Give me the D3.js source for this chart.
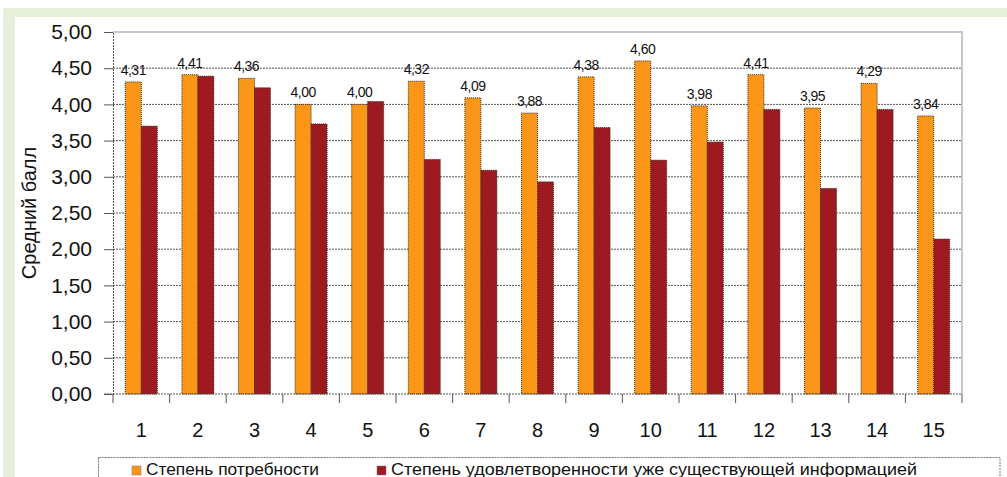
<!DOCTYPE html>
<html>
<head>
<meta charset="utf-8">
<script src="https://cdn.jsdelivr.net/npm/d3@7"></script>
<style>
  body { margin: 0; background: #fff; }
  svg { display: block; font-family: "Liberation Sans", Arial, sans-serif; }
</style>
</head>
<body>
<div id="chart"></div>
<script>
// categories 1..15 and the two series
var categories = ["1", "2", "3", "4", "5", "6", "7", "8", "9", "10", "11", "12", "13", "14", "15"];
var needValues = [4.31, 4.41, 4.36, 4.00, 4.00, 4.32, 4.09, 3.88, 4.38, 4.60, 3.98, 4.41, 3.95, 4.29, 3.84];
var satisfactionValues = [3.70, 4.39, 4.23, 3.73, 4.04, 3.24, 3.09, 2.93, 3.68, 3.23, 3.48, 3.93, 2.84, 3.93, 2.14];
var seriesNames = ["Степень потребности", "Степень удовлетворенности уже существующей информацией"];
var yTicks = [0, 0.5, 1, 1.5, 2, 2.5, 3, 3.5, 4, 4.5, 5];
var yTitle = "Средний балл";

var width = 1007, height = 477;
var plotLeft = 113, plotRight = 962, plotTop = 32, plotBottom = 394;
var colors = ["#fb9619", "#9c1a20"];

var svg = d3.select("#chart").append("svg")
    .attr("width", width)
    .attr("height", height);

// light green frame, top and left
svg.append("rect").attr("x", 3).attr("y", 8).attr("width", width - 3).attr("height", 9).attr("fill", "#e6f0db");
svg.append("rect").attr("x", 3).attr("y", 8).attr("width", 12).attr("height", height - 8).attr("fill", "#e6f0db");

var x0 = d3.scaleBand().domain(categories).range([plotLeft, plotRight]).padding(0);
var x1 = d3.scaleBand().domain([0, 1]).range([0, x0.bandwidth()]).paddingInner(0).paddingOuter(0.77);
var y = d3.scaleLinear().domain([0, 5]).range([plotBottom, plotTop]);

var fmt = function(v) { return d3.format(".2f")(v).replace(".", ","); };

// gridlines
svg.append("g")
  .selectAll("line")
  .data(yTicks.filter(function(d) { return d > 0 && d < 5; }))
  .enter().append("line")
    .attr("x1", plotLeft).attr("x2", plotRight)
    .attr("y1", function(d) { return y(d); })
    .attr("y2", function(d) { return y(d); })
    .attr("stroke", "#555")
    .attr("stroke-dasharray", "2,1");

// plot area border top / right
svg.append("path")
    .attr("d", "M" + plotLeft + "," + y(5) + "H" + plotRight + "V" + plotBottom)
    .attr("fill", "none")
    .attr("stroke", "#c8c8c8")
    .attr("stroke-width", 2);

// bars
var series = [needValues, satisfactionValues];
series.forEach(function(vals, si) {
  svg.append("g")
    .selectAll("rect")
    .data(vals)
    .enter().append("rect")
      .attr("x", function(d, i) { return x0(categories[i]) + x1(si); })
      .attr("y", function(d) { return y(d); })
      .attr("width", x1.bandwidth())
      .attr("height", function(d) { return y(0) - y(d); })
      .attr("fill", colors[si])
      .attr("stroke", "#3a2a20")
      .attr("stroke-width", 1)
      .attr("stroke-dasharray", "1,1");
});

// data labels over the first series
svg.append("g")
  .selectAll("text")
  .data(needValues)
  .enter().append("text")
    .attr("x", function(d, i) { return x0(categories[i]) + x1(0) + x1.bandwidth() / 2; })
    .attr("y", function(d) { return y(d) - 7; })
    .attr("text-anchor", "middle")
    .attr("font-size", 14)
    .attr("letter-spacing", -0.5)
    .attr("fill", "#111")
    .text(fmt);

// y axis
var yAxis = svg.append("g")
    .attr("transform", "translate(" + plotLeft + ",0)")
    .call(d3.axisLeft(y).tickValues(yTicks).tickSize(9).tickPadding(12).tickFormat(fmt));
yAxis.select(".domain").attr("stroke", "#555").attr("stroke-dasharray", "2,1");
yAxis.selectAll(".tick line").attr("stroke", "#555");
yAxis.selectAll("text")
    .attr("font-size", 21)
    .attr("font-family", "Liberation Sans, Arial, sans-serif")
    .attr("fill", "#111");

// x axis: ticks between categories
var xAxis = svg.append("g")
    .attr("transform", "translate(0," + plotBottom + ")");
xAxis.append("line")
    .attr("x1", plotLeft - 9).attr("x2", plotRight)
    .attr("stroke", "#555").attr("stroke-dasharray", "2,1");
xAxis.selectAll(".sep")
  .data(categories.concat(["end"]))
  .enter().append("line")
    .attr("class", "sep")
    .attr("x1", function(d, i) { return i < categories.length ? x0(d) : plotRight; })
    .attr("x2", function(d, i) { return i < categories.length ? x0(d) : plotRight; })
    .attr("y1", 0).attr("y2", 9)
    .attr("stroke", "#555");
xAxis.selectAll(".lbl")
  .data(categories)
  .enter().append("text")
    .attr("class", "lbl")
    .attr("x", function(d) { return x0(d) + x0.bandwidth() / 2; })
    .attr("y", 43)
    .attr("text-anchor", "middle")
    .attr("font-size", 20)
    .attr("fill", "#111")
    .text(function(d) { return d; });

// y axis title
svg.append("text")
    .attr("transform", "translate(36," + ((plotTop + plotBottom) / 2) + ") rotate(-90)")
    .attr("text-anchor", "middle")
    .attr("font-size", 20)
    .attr("fill", "#111")
    .text(yTitle);

// legend
var legend = svg.append("g");
legend.append("rect")
    .attr("x", 98.5).attr("y", 457.5)
    .attr("width", 1000 - 98.5).attr("height", 40)
    .attr("fill", "#fff")
    .attr("stroke", "#777")
    .attr("stroke-dasharray", "2,1");
var legendX = [132, 377];
var legendW = [173, 526];
seriesNames.forEach(function(name, i) {
  legend.append("rect")
      .attr("x", legendX[i]).attr("y", 466)
      .attr("width", 9).attr("height", 9)
      .attr("fill", colors[i])
      .attr("stroke", "#777")
      .attr("stroke-width", 0.5);
  legend.append("text")
      .attr("x", legendX[i] + 14).attr("y", 475)
      .attr("font-size", 16.5)
      .attr("textLength", legendW[i])
      .attr("lengthAdjust", "spacingAndGlyphs")
      .attr("fill", "#111")
      .text(name);
});
</script>
</body>
</html>
